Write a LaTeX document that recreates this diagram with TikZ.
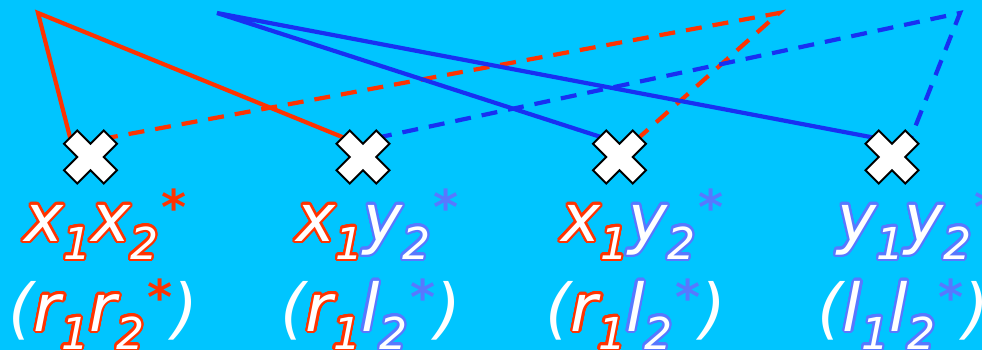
\documentclass[tikz,border=0pt]{standalone}
\usepackage{fontspec}
\usepackage[copies]{contour}
\newfontfamily\labfont{DejaVu Sans}
\definecolor{bgcyan}{HTML}{00C5FF}
\definecolor{linered}{HTML}{FF3300}
\definecolor{lineblue}{HTML}{1830F2}
\definecolor{labred}{HTML}{FF3300}
\definecolor{labblue}{HTML}{5878FF}
\contourlength{2.2pt}
\contournumber{32}
\newcommand\mainsz{\fontsize{66}{66}\selectfont}
\newcommand\subsz{\fontsize{44}{44}\selectfont}
\newcommand\astsz{\fontsize{48}{48}\selectfont\upshape\bfseries}
\newcommand\Lr[1]{\textcolor{white}{\contour{labred}{#1}}}
\newcommand\Lb[1]{\textcolor{white}{\contour{labblue}{#1}}}
\newcommand\Sr[1]{\raisebox{-18pt}{\subsz\Lr{#1}}}
\newcommand\Sb[1]{\raisebox{-18pt}{\subsz\Lb{#1}}}
\newcommand\Ar{\hspace{3pt}\raisebox{17pt}{\astsz\textcolor{labred}{*}}}
\newcommand\Ab{\hspace{3pt}\raisebox{17pt}{\astsz\textcolor{labblue}{*}}}
\newcommand\Pn[1]{\textcolor{white}{#1}}
\tikzset{
  solidred/.style={draw=linered, line width=4.2pt},
  dashred/.style={draw=linered, line width=4.2pt, dash pattern=on 16pt off 11pt},
  solidblue/.style={draw=lineblue, line width=4.2pt},
  dashblue/.style={draw=lineblue, line width=4.2pt, dash pattern=on 16pt off 11pt},
  crossshape/.style={fill=white, draw=black, line width=1.8pt, line join=miter},
  lab/.style={anchor=base west, inner sep=0pt, font=\labfont\itshape\mainsz},
  pics/xmark/.style={code={
    \path[crossshape] (0,13.25) -- (13.25,26.5) -- (26.5,13.25) -- (13.25,0) -- (26.5,-13.25)
      -- (13.25,-26.5) -- (0,-13.25) -- (-13.25,-26.5) -- (-26.5,-13.25) -- (-13.25,0)
      -- (-26.5,13.25) -- (-13.25,26.5) -- cycle;}}
}
\begin{document}
\begin{tikzpicture}[x=1pt,y=-1pt]
\fill[bgcyan] (0,0) rectangle (982,350);
\useasboundingbox (0,0) rectangle (982,350);
\clip (0,0) rectangle (982,350);
% cross centres
\coordinate (c1) at (90.5,157);
\coordinate (c2) at (363,157);
\coordinate (c3) at (619.5,157);
\coordinate (c4) at (892,157);
% apices
\coordinate (ra) at (38,13);
\coordinate (rb) at (779,13);
\coordinate (ba) at (217,13);
\coordinate (bb) at (960,13);
% line ends hidden under the crosses
\coordinate (r1) at (72,145);
\coordinate (r2) at (352,141);
\coordinate (d1) at (102,139);
\coordinate (d3) at (634,142);
\coordinate (b3) at (607,139);
\coordinate (b4) at (881,139);
\coordinate (e2) at (376,138);
\coordinate (e4) at (910,140);
% connectors
\draw[solidred, line join=miter] (r1) -- (ra) -- (r2);
\draw[dashred, line join=miter] (d1) -- (rb) -- (d3);
\draw[solidblue, line join=miter] (b3) -- (ba) -- (b4);
\draw[dashblue, line join=miter] (e2) -- (bb) -- (e4);
% crosses
\pic at (c1) {xmark};
\pic at (c2) {xmark};
\pic at (c3) {xmark};
\pic at (c4) {xmark};
% labels
\node[lab] (l1a) at (24,241) {\Lr{x}\Sr{1}\Lr{x}\Sr{2}\Ar};
\node[lab] (l1b) at (8,331) {\Pn{(}\Lr{r}\Sr{1}\Lr{r}\Sr{2}\Ar\Pn{)}};
\node[lab] (l2a) at (296,241) {\Lr{x}\Sr{1}\Lb{y}\Sb{2}\Ab};
\node[lab] (l2b) at (280,331) {\Pn{(}\Lr{r}\Sr{1}\Lb{l}\Sb{2}\Ab\Pn{)}};
\node[lab] (l3a) at (561,241) {\Lr{x}\Sr{1}\Lb{y}\Sb{2}\Ab};
\node[lab] (l3b) at (545,331) {\Pn{(}\Lr{r}\Sr{1}\Lb{l}\Sb{2}\Ab\Pn{)}};
\node[lab] (l4a) at (837,241) {\Lb{y}\Sb{1}\Lb{y}\Sb{2}\Ab};
\node[lab] (l4b) at (817,331) {\Pn{(}\Lb{l}\Sb{1}\Lb{l}\Sb{2}\Ab\Pn{)}};
\end{tikzpicture}
\end{document}
